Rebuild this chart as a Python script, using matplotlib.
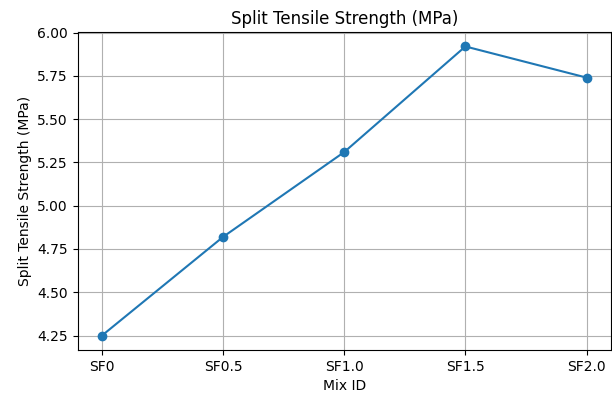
import matplotlib
matplotlib.use("Agg")
import matplotlib.pyplot as plt

# Mix IDs and measured split tensile strength
mix_ids = ["SF0", "SF0.5", "SF1.0", "SF1.5", "SF2.0"]
strength = [4.25, 4.82, 5.31, 5.92, 5.74]

fig = plt.figure(figsize=(6.12, 3.98), dpi=100)
ax = fig.add_axes([0.127, 0.1206, 0.871, 0.799])

ax.plot(mix_ids, strength, marker="o")
ax.set_title("Split Tensile Strength (MPa)")
ax.set_xlabel("Mix ID")
ax.set_ylabel("Split Tensile Strength (MPa)")
ax.yaxis.set_major_formatter(matplotlib.ticker.FormatStrFormatter("%.2f"))
ax.grid(True)

fig.savefig("out.png", dpi=100)
